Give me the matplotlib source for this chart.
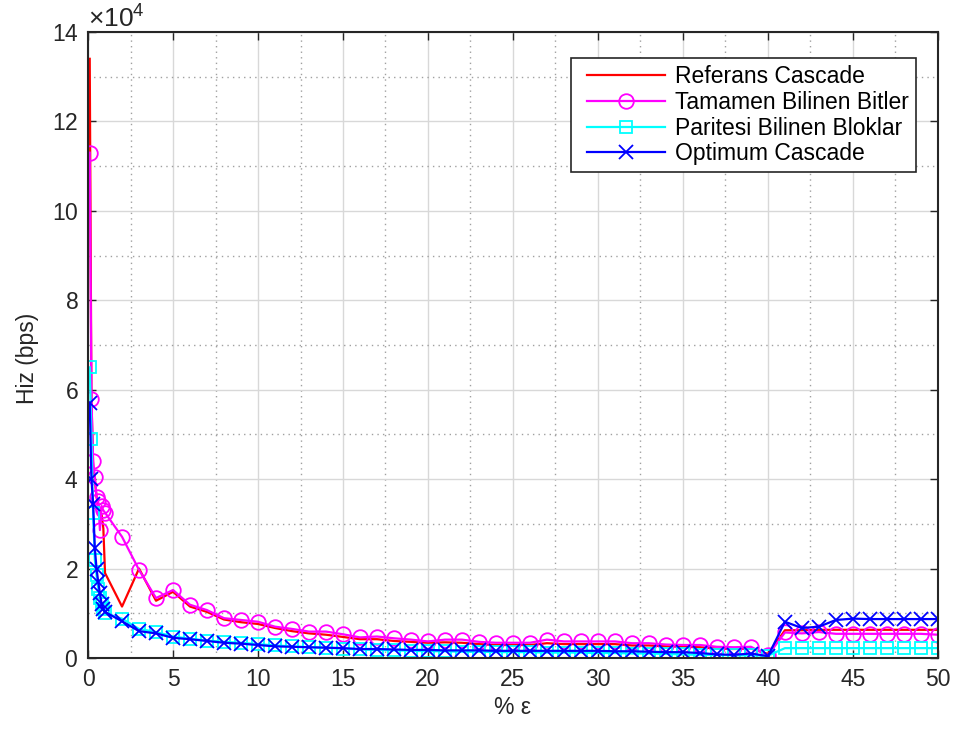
import matplotlib
matplotlib.use("Agg")
import matplotlib.pyplot as plt
from matplotlib.lines import Line2D
from matplotlib.legend_handler import HandlerLine2D
from matplotlib.ticker import MultipleLocator, ScalarFormatter

plt.rcParams["font.family"] = ["Liberation Sans", "DejaVu Sans"]
plt.rcParams["mathtext.fontset"] = "custom"
plt.rcParams["mathtext.rm"] = "Liberation Sans"
plt.rcParams["mathtext.it"] = "Liberation Sans:italic"

# error rate (%)
eps = [0.1, 0.2, 0.3, 0.4, 0.5, 0.6, 0.7, 0.8, 0.9, 1.0] + list(range(2, 51))

# throughput (bps)
referans = [134000, 58000, 43000, 40000, 36000, 34000, 33000, 32000, 29000, 19000,
            11500, 20000, 12800, 14800, 11500, 10300, 8600, 8000, 7600,
            6700, 6000, 5500, 5200, 4700, 4200, 4200, 3800, 3600, 3400,
            3500, 3400, 3100, 2900, 2900, 2900, 3300, 3100, 3100, 3100,
            3100, 2800, 2800, 2600, 2500, 2400, 2100, 2000, 2100, 900,
            6200, 6200, 6300, 6300, 6300, 6300, 6300, 6300, 6300, 6300]

tamamen = [113000, 58000, 44000, 40500, 36000, 35000, 28600, 34000, 33000, 32500,
           27100, 19700, 13400, 15200, 11900, 10700, 8900, 8500, 8100,
           7000, 6500, 5900, 5900, 5300, 4600, 4800, 4400, 4100, 3700,
           4100, 4100, 3600, 3400, 3400, 3400, 4100, 3700, 3700, 3700,
           3700, 3300, 3300, 3000, 2900, 2900, 2500, 2400, 2500, 600,
           5700, 5500, 5800, 5400, 5400, 5400, 5400, 5400, 5400, 5200]

paritesi = [65000, 49000, 32500, 22000, 18500, 15500, 13500, 12000, 11000, 10000,
            8800, 6500, 5800, 4800, 4300, 3900, 3600, 3400, 3100,
            2800, 2600, 2400, 2300, 2100, 1900, 1800, 1700, 1600, 1500,
            1500, 1400, 1400, 1300, 1300, 1300, 1200, 1200, 1200, 1100,
            1100, 1000, 1000, 900, 800, 700, 700, 600, 600, 500,
            2200, 2200, 2200, 2200, 2200, 2200, 2200, 2200, 2200, 2200]

optimum = [57000, 40000, 34500, 24500, 20000, 17000, 14500, 12000, 11000, 10300,
           8200, 6000, 5500, 4500, 4200, 3800, 3400, 3200, 2900,
           2600, 2500, 2400, 2300, 2200, 2000, 2000, 1900, 1800, 1800,
           1700, 1700, 1700, 1600, 1600, 1600, 1600, 1600, 1600, 1600,
           1500, 1500, 1400, 1300, 1300, 1100, 800, 700, 1000, 400,
           8100, 6700, 7000, 8500, 8800, 8700, 8700, 8700, 8700, 8700]

labels = ["Referans Cascade", "Tamamen Bilinen Bitler",
          "Paritesi Bilinen Bloklar", "Optimum Cascade"]

TEXT = "#262626"

fig = plt.figure(figsize=(9.6, 7.35), dpi=100)
ax = fig.add_axes([0.0917, 0.1048, 0.8853, 0.8517])

ax.plot(eps, referans, color="#ff0000", lw=1.6, label=labels[0])
ax.plot(eps, tamamen, color="#ff00ff", lw=1.6, marker="o", ms=10.5, mfc="none",
        mew=1.3, label=labels[1])
ax.plot(eps, paritesi, color="#00ffff", lw=1.6, marker="s", ms=8.5, mfc="none",
        mew=1.3, label=labels[2])
ax.plot(eps, optimum, color="#0000ff", lw=1.6, marker="x", ms=9.5,
        mew=1.3, label=labels[3])

ax.set_xlim(0, 50)
ax.set_ylim(0, 140000)
ax.xaxis.set_major_locator(MultipleLocator(5))
ax.xaxis.set_minor_locator(MultipleLocator(2.5))
ax.yaxis.set_major_locator(MultipleLocator(20000))
ax.yaxis.set_minor_locator(MultipleLocator(10000))

fmt = ScalarFormatter(useMathText=True)
fmt.set_powerlimits((4, 4))
ax.yaxis.set_major_formatter(fmt)
ax.yaxis.get_offset_text().set_fontsize(19)
ax.yaxis.get_offset_text().set_color(TEXT)

ax.grid(which="major", color="#d8d8d8", lw=1.0, ls="-")
ax.grid(which="minor", color="#a0a0a0", lw=1.0, ls=(0, (1, 3)))
ax.set_axisbelow(True)

ax.tick_params(which="major", direction="in", length=6, width=1.0,
               top=True, right=True, labelsize=16.5, colors=TEXT, pad=7)
ax.tick_params(which="minor", length=0)
for s in ax.spines.values():
    s.set_color(TEXT)
    s.set_linewidth(1.5)

ax.set_xlabel("% ε", fontsize=16.5, color=TEXT, labelpad=4)
ax.set_ylabel("Hiz (bps)", fontsize=16.5, color=TEXT)
ax.yaxis.set_label_coords(-0.058, 0.478)

leg = ax.legend(loc="upper right", bbox_to_anchor=(0.974, 0.958), fontsize=16.5,
                frameon=True, fancybox=False, framealpha=1, edgecolor=TEXT,
                handlelength=3.8, labelspacing=0.12, borderpad=0.3,
                handletextpad=0.45, borderaxespad=0,
                handler_map={Line2D: HandlerLine2D(xpad=0.4)})
leg.get_frame().set_linewidth(1.2)

fig.savefig("out.png", dpi=100)
